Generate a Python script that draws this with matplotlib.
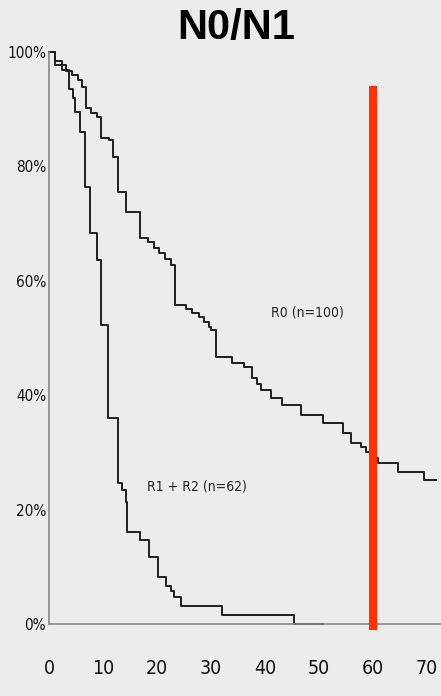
import matplotlib
matplotlib.use("Agg")
import matplotlib.pyplot as plt

# Kaplan-Meier steps (months, survival fraction)
r0_time = [0, 1.1, 3.2, 4.2, 5.4, 6.2, 6.8, 7.8, 8.8, 9.7, 11.2, 11.8, 12.7,
           14.3, 16.8, 18.3, 19.5, 20.4, 21.5, 22.6, 23.4, 25.3, 26.5, 27.8,
           28.7, 29.6, 30.0, 31.0, 33.9, 36.1, 37.6, 38.5, 39.2, 41.1, 43.1,
           46.6, 50.8, 54.5, 56.0, 57.8, 58.7, 60.0, 61.0, 64.6, 69.4, 71.6]
r0_surv = [1.0, 0.977, 0.966, 0.96, 0.951, 0.939, 0.902, 0.893, 0.887, 0.85,
           0.846, 0.816, 0.755, 0.72, 0.675, 0.667, 0.658, 0.648, 0.638, 0.628,
           0.557, 0.55, 0.543, 0.536, 0.528, 0.52, 0.514, 0.467, 0.456, 0.449,
           0.43, 0.42, 0.409, 0.395, 0.383, 0.365, 0.351, 0.334, 0.316, 0.31,
           0.301, 0.29, 0.281, 0.266, 0.252, 0.252]

r12_time = [0, 1.2, 2.4, 3.7, 4.4, 4.8, 5.7, 6.6, 7.6, 8.8, 9.7, 10.9, 12.7,
            13.5, 14.2, 14.5, 16.8, 18.5, 20.1, 21.6, 22.6, 23.2, 24.5, 32.0,
            45.3, 50.8]
r12_surv = [1.0, 0.984, 0.968, 0.935, 0.919, 0.895, 0.86, 0.764, 0.684, 0.636,
            0.523, 0.36, 0.247, 0.235, 0.213, 0.161, 0.147, 0.117, 0.082, 0.066,
            0.058, 0.047, 0.032, 0.016, 0.0, 0.0]

x_ticks = [0, 10, 20, 30, 40, 50, 60, 70]
y_ticks = [0, 0.2, 0.4, 0.6, 0.8, 1.0]
y_labels = ["0%", "20%", "40%", "60%", "80%", "100%"]

cutoff_time = 60
cutoff_top = 0.94

bg = "#ececec"
ink = "#1f1f1f"
narrow = ["DejaVu Sans Condensed", "DejaVu Sans"]

fig = plt.figure(figsize=(4.41, 6.96), dpi=100, facecolor=bg)
ax = fig.add_axes([49 / 441, 72 / 696, 392 / 441, 572 / 696], facecolor=bg)

ax.step(r0_time, r0_surv, where="post", color=ink, lw=1.4, clip_on=False)
ax.step(r12_time, r12_surv, where="post", color=ink, lw=1.4, clip_on=False)
ax.plot([cutoff_time, cutoff_time], [-0.01, cutoff_top], color="#ff3300",
        lw=5.8, solid_capstyle="butt", clip_on=False, zorder=5)

ax.text(47.8, 0.545, "R0 (n=100)", ha="center", va="center", fontsize=10,
        family=narrow, stretch="condensed", color="#222222")
ax.text(27.4, 0.241, "R1 + R2 (n=62)", ha="center", va="center", fontsize=10,
        family=narrow, stretch="condensed", color="#222222")

ax.set_xlim(0, 72.6)
ax.set_ylim(0, 1.0)
ax.set_xticks(x_ticks)
ax.set_xticklabels([str(v) for v in x_ticks], family=narrow, stretch="condensed",
                   fontsize=14, color="#111111")
ax.set_yticks(y_ticks)
ax.set_yticklabels(y_labels, family=narrow, stretch="condensed",
                   fontsize=11, color="#111111")
ax.tick_params(axis="x", length=0, pad=25)
ax.tick_params(axis="y", length=0, pad=2)

for s in ["top", "right"]:
    ax.spines[s].set_visible(False)
for s in ["left", "bottom"]:
    ax.spines[s].set_color("#888888")
    ax.spines[s].set_linewidth(1.2)

fig.text(236 / 441, 1 - 28 / 696, "N0/N1", ha="center", va="center",
         fontsize=30, fontweight="bold", family="Liberation Sans", color="black")

fig.savefig("out.png", dpi=100, facecolor=bg)
